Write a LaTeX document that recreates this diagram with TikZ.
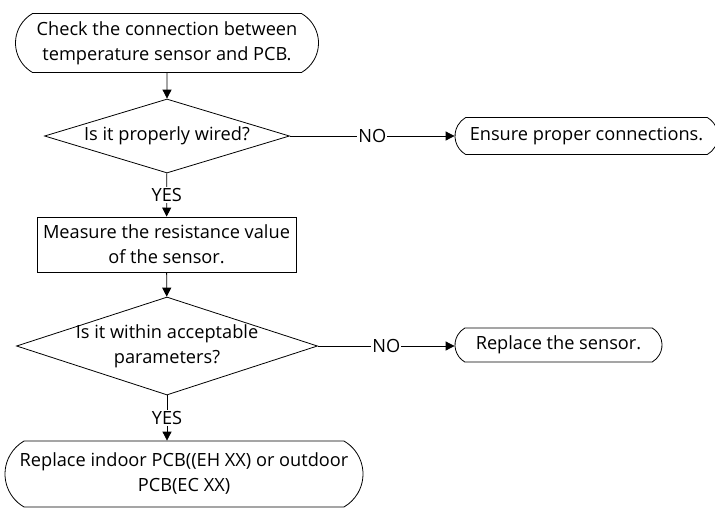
\documentclass[tikz,border=0pt]{standalone}
\usepackage{fontspec}
\setmainfont{Open Sans}
\usetikzlibrary{shapes.geometric, shapes.misc, arrows.meta, positioning}

\begin{document}
\begin{tikzpicture}[
  x=1pt, y=-1pt,
  font=\fontsize{18.2}{25}\selectfont,
  line width=0.8pt,
  term/.style={rounded rectangle, rounded rectangle arc length=120, draw, inner sep=0pt, align=center},
  proc/.style={rectangle, draw, inner sep=0pt, align=center},
  dec/.style={diamond, draw, inner sep=0pt, align=center},
  arr/.style={-{Triangle[length=9pt, width=9pt]}},
  lbl/.style={fill=white, inner sep=1pt}]

  \useasboundingbox (0,0) rectangle (715,507);

  \node[term, minimum width=303pt, minimum height=59pt] (start) at (167,43)
    {Check the connection between\\temperature sensor and PCB.};
  \node[dec, shape aspect=3.3, minimum width=245pt, minimum height=74pt] (wired) at (167,136)
    {Is it properly wired?};
  \node[term, minimum width=263pt, minimum height=37pt] (ensure) at (586.5,136)
    {Ensure proper connections.};
  \node[proc, minimum width=259pt, minimum height=55pt] (measure) at (166.5,244.5)
    {Measure the resistance value\\of the sensor.};
  \node[dec, shape aspect=3.07, inner sep=-5pt, minimum width=301pt, minimum height=98pt] (within) at (167,346)
    {Is it within acceptable\\parameters?};
  \node[term, minimum width=207pt, minimum height=34pt] (sensor) at (558.5,345)
    {Replace the sensor.};
  \node[term, minimum width=358pt, minimum height=66pt] (pcb) at (184,474)
    {Replace indoor PCB((EH XX) or outdoor\\PCB(EC XX)};

  % connectors
  \draw[arr] (start) -- (wired);
  \draw[arr] (wired) -- node[lbl]{NO} (ensure);
  \draw[arr] (wired) -- node[lbl]{YES} (measure);
  \draw[arr] (measure) -- (within);
  \draw[arr] (within) -- node[lbl]{NO} (sensor.west |- within);
  \draw[arr] (within.south) -- node[lbl]{YES} (within.south |- pcb.north);
\end{tikzpicture}
\end{document}
